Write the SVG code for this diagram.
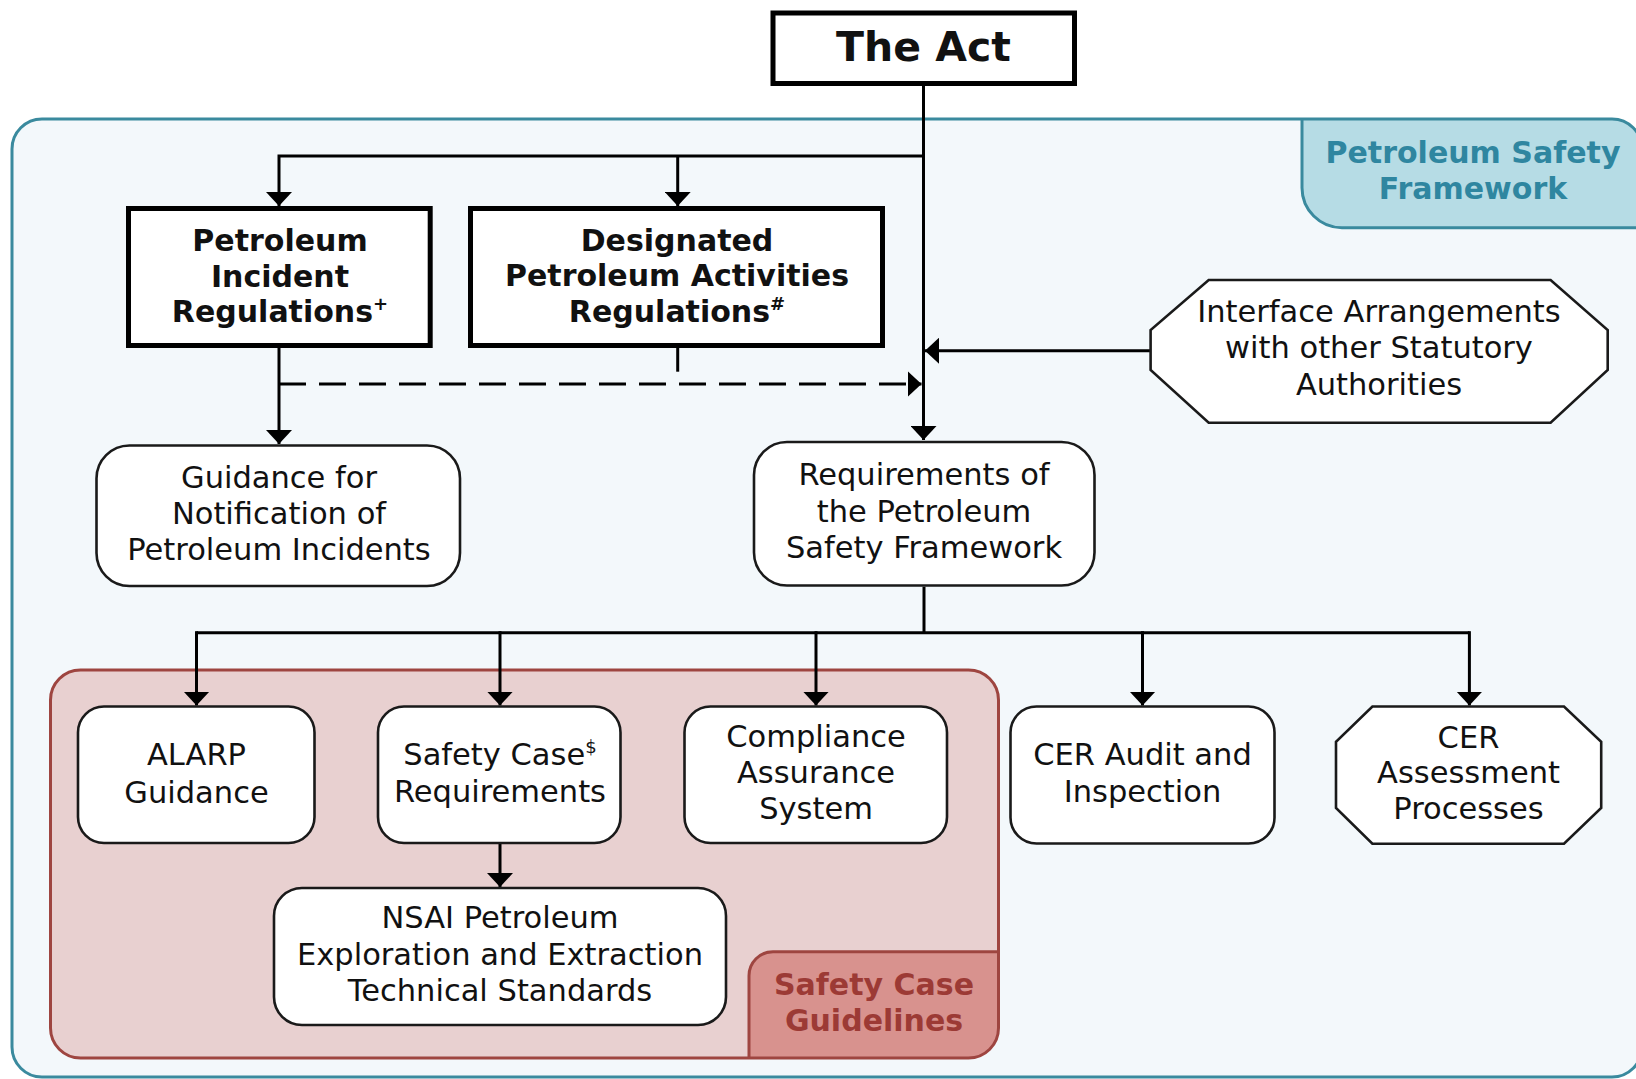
<svg xmlns="http://www.w3.org/2000/svg" width="1636" height="1079" viewBox="0 0 1636 1079">
<style>
  text { font-family: "DejaVu Sans", Verdana, sans-serif; fill: #111; text-anchor: middle; }
  .t { font-size: 30.5px; }
  .b { font-size: 30px; font-weight: bold; }
  .act { font-size: 41px; font-weight: bold; }
  .thick { fill: #fff; stroke: #000; stroke-width: 5; }
  .node { fill: #fff; stroke: #1a1a1a; stroke-width: 2.6; }
  .conn { fill: none; stroke: #000; stroke-width: 3; }
  .dash { stroke-dasharray: 27 13; }
  .psf { fill: #2f86a0; }
  .scg { fill: #9c3a35; }
</style>
<defs>
  <marker id="ah" viewBox="0 0 14 26" refX="14" refY="13" markerWidth="14" markerHeight="26" markerUnits="userSpaceOnUse" orient="auto">
    <path d="M0,0 L14,13 L0,26 z" fill="#000"/>
  </marker>
  <clipPath id="clipOuter"><rect x="12" y="119" width="1630" height="958" rx="30"/></clipPath>
  <clipPath id="clipScg"><rect x="50.5" y="670" width="948" height="388" rx="30"/></clipPath>
</defs>

<rect width="1636" height="1079" fill="#fff"/>

<g id="petroleum-safety-framework">
  <rect x="12" y="119" width="1630" height="958" rx="30" fill="#f3f8fb"/>
  <rect x="1302" y="60" width="400" height="167.7" rx="40" fill="#b6dce5" stroke="#3a8a9e" stroke-width="3" clip-path="url(#clipOuter)"/>
  <rect x="12" y="119" width="1630" height="958" rx="30" fill="none" stroke="#3a8a9e" stroke-width="3"/>
  <text class="b psf" x="1473" y="163">Petroleum Safety</text>
  <text class="b psf" x="1473" y="199">Framework</text>
</g>

<g id="safety-case-guidelines">
  <rect x="50.5" y="670" width="948" height="388" rx="30" fill="#e8d0d0"/>
  <rect x="749" y="951.7" width="300" height="160" rx="24" fill="#d8928e" stroke="#9e4540" stroke-width="3" clip-path="url(#clipScg)"/>
  <rect x="50.5" y="670" width="948" height="388" rx="30" fill="none" stroke="#9e4540" stroke-width="3"/>
  <text class="b scg" x="874" y="995">Safety Case</text>
  <text class="b scg" x="874" y="1030.7">Guidelines</text>
</g>

<g id="connectors">
  <path class="conn" d="M923.5,86 V440" marker-end="url(#ah)"/>
  <path class="conn" d="M923.5,156 H279 V206" marker-end="url(#ah)"/>
  <path class="conn" d="M677.7,156 V206" marker-end="url(#ah)"/>
  <path class="conn" d="M279,348 V444" marker-end="url(#ah)"/>
  <path class="conn dash" d="M279,384 H921.5" marker-end="url(#ah)"/>
  <path class="conn" d="M677.7,348 V371.7"/>
  <path class="conn" d="M1150.6,350.7 H925" marker-end="url(#ah)"/>
  <path class="conn" d="M924,586.7 V632.7"/>
  <path class="conn" d="M196.5,632.7 H1469.4"/>
  <path class="conn" d="M196.5,631.2 V705.5" marker-end="url(#ah)"/>
  <path class="conn" d="M500,631.2 V705.5" marker-end="url(#ah)"/>
  <path class="conn" d="M816,631.2 V705.5" marker-end="url(#ah)"/>
  <path class="conn" d="M1142.5,631.2 V705.5" marker-end="url(#ah)"/>
  <path class="conn" d="M1469.4,631.2 V705.5" marker-end="url(#ah)"/>
  <path class="conn" d="M500,844 V887" marker-end="url(#ah)"/>
</g>

<g id="the-act">
  <rect class="thick" x="773" y="13" width="301.5" height="70.5" stroke-width="4.5"/>
  <text class="act" x="923.5" y="61">The Act</text>
</g>

<g id="petroleum-incident-regulations">
  <rect class="thick" x="128.5" y="208.5" width="301.7" height="137"/>
  <text class="b" x="280" y="251">Petroleum</text>
  <text class="b" x="280" y="286.5">Incident</text>
  <text class="b" x="280" y="322">Regulations<tspan font-size="18" dy="-12">+</tspan></text>
</g>

<g id="designated-petroleum-activities-regulations">
  <rect class="thick" x="470.5" y="208.5" width="412" height="137"/>
  <text class="b" x="677" y="250.5">Designated</text>
  <text class="b" x="677" y="286">Petroleum Activities</text>
  <text class="b" x="677" y="321.5">Regulations<tspan font-size="18" dy="-12">#</tspan></text>
</g>

<g id="interface-arrangements">
  <polygon class="node" points="1208.7,280 1550.6,280 1607.7,330 1607.7,370 1550.6,422.7 1208.7,422.7 1150.6,370 1150.6,330"/>
  <text class="t" x="1379" y="321.7">Interface Arrangements</text>
  <text class="t" x="1379" y="358">with other Statutory</text>
  <text class="t" x="1379" y="395">Authorities</text>
</g>

<g id="guidance-notification">
  <rect class="node" x="96.5" y="445.5" width="363.5" height="140.5" rx="33"/>
  <text class="t" x="279" y="487.7">Guidance for</text>
  <text class="t" x="279" y="524.3">Notification of</text>
  <text class="t" x="279" y="560">Petroleum Incidents</text>
</g>

<g id="requirements-psf">
  <rect class="node" x="754" y="442" width="340.5" height="143.5" rx="33"/>
  <text class="t" x="924" y="485">Requirements of</text>
  <text class="t" x="924" y="521.7">the Petroleum</text>
  <text class="t" x="924" y="558">Safety Framework</text>
</g>

<g id="alarp-guidance">
  <rect class="node" x="78" y="706.5" width="236.5" height="136.5" rx="26"/>
  <text class="t" x="196.5" y="765">ALARP</text>
  <text class="t" x="196.5" y="802.7">Guidance</text>
</g>

<g id="safety-case-requirements">
  <rect class="node" x="378" y="706.5" width="242.5" height="136.5" rx="26"/>
  <text class="t" x="500" y="765">Safety Case<tspan font-size="18" dy="-12">$</tspan></text>
  <text class="t" x="500" y="801.7">Requirements</text>
</g>

<g id="compliance-assurance-system">
  <rect class="node" x="684.5" y="706.5" width="262.5" height="136.5" rx="26"/>
  <text class="t" x="816" y="747">Compliance</text>
  <text class="t" x="816" y="783">Assurance</text>
  <text class="t" x="816" y="819">System</text>
</g>

<g id="cer-audit-inspection">
  <rect class="node" x="1010.5" y="706.5" width="264" height="137" rx="26"/>
  <text class="t" x="1142.5" y="765">CER Audit and</text>
  <text class="t" x="1142.5" y="801.7">Inspection</text>
</g>

<g id="cer-assessment-processes">
  <polygon class="node" points="1372.4,706.5 1564,706.5 1601.2,741.7 1601.2,808 1564,843.7 1372.4,843.7 1336,808 1336,741.7"/>
  <text class="t" x="1468.5" y="747.7">CER</text>
  <text class="t" x="1468.5" y="783">Assessment</text>
  <text class="t" x="1468.5" y="819">Processes</text>
</g>

<g id="nsai-standards">
  <rect class="node" x="274" y="888" width="452" height="137" rx="28"/>
  <text class="t" x="500" y="928">NSAI Petroleum</text>
  <text class="t" x="500" y="965">Exploration and Extraction</text>
  <text class="t" x="500" y="1001">Technical Standards</text>
</g>
</svg>
